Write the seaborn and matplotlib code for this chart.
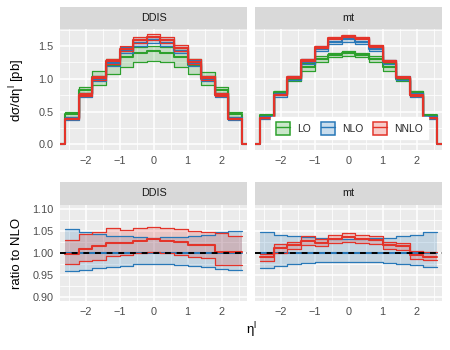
import numpy as np
import matplotlib
matplotlib.use("Agg")
import matplotlib.pyplot as plt
import seaborn as sns
from matplotlib.patches import Patch
from matplotlib.lines import Line2D
from matplotlib.legend_handler import HandlerTuple

# data
eta_edges = [-2.6, -2.2, -1.8, -1.4, -1.0, -0.6, -0.2, 0.2, 0.6, 1.0, 1.4, 1.8, 2.2, 2.6]
panels = ["DDIS", "mt"]
orders = ["LO", "NLO", "NNLO"]

# DDIS, absolute cross sections [pb]
ddis_lo = [0.455, 0.835, 1.03, 1.21, 1.33, 1.40, 1.43, 1.40, 1.33, 1.21, 1.03, 0.835, 0.455]
ddis_lo_up = [0.49, 0.88, 1.115, 1.30, 1.44, 1.48, 1.50, 1.48, 1.44, 1.30, 1.11, 0.88, 0.49]
ddis_lo_dn = [0.42, 0.79, 0.91, 1.07, 1.18, 1.25, 1.27, 1.25, 1.18, 1.07, 0.905, 0.79, 0.415]
ddis_nlo = [0.39, 0.75, 1.00, 1.235, 1.43, 1.545, 1.585, 1.545, 1.43, 1.235, 1.00, 0.75, 0.39]
# DDIS, ratios to NLO central
ddis_nlo_r_up = [1.054, 1.048, 1.044, 1.040, 1.038, 1.036, 1.035, 1.036, 1.037, 1.040, 1.042, 1.047, 1.050]
ddis_nlo_r_dn = [0.958, 0.960, 0.966, 0.969, 0.971, 0.974, 0.974, 0.974, 0.972, 0.970, 0.968, 0.964, 0.962]
ddis_nnlo_r = [0.998, 1.009, 1.015, 1.024, 1.022, 1.028, 1.031, 1.028, 1.025, 1.019, 1.018, 1.002, 1.002]
ddis_nnlo_r_up = [1.030, 1.043, 1.048, 1.057, 1.053, 1.057, 1.060, 1.058, 1.055, 1.051, 1.048, 1.045, 1.039]
ddis_nnlo_r_dn = [0.974, 0.981, 0.985, 0.994, 0.996, 1.000, 1.002, 1.000, 0.996, 0.991, 0.988, 0.973, 0.972]

# mt, absolute cross sections [pb]
mt_lo = [0.44, 0.80, 0.99, 1.185, 1.30, 1.36, 1.39, 1.36, 1.30, 1.185, 0.99, 0.80, 0.44]
mt_lo_up = [0.45, 0.815, 1.015, 1.245, 1.345, 1.40, 1.43, 1.40, 1.345, 1.245, 1.015, 0.815, 0.45]
mt_lo_dn = [0.43, 0.785, 0.965, 1.125, 1.255, 1.325, 1.35, 1.325, 1.255, 1.125, 0.965, 0.785, 0.43]
mt_nlo = [0.405, 0.75, 1.01, 1.25, 1.455, 1.565, 1.60, 1.565, 1.455, 1.25, 1.01, 0.75, 0.405]
# mt, ratios to NLO central
mt_nlo_r_up = [1.048, 1.042, 1.039, 1.037, 1.034, 1.033, 1.033, 1.033, 1.034, 1.035, 1.039, 1.042, 1.047]
mt_nlo_r_dn = [0.966, 0.971, 0.975, 0.977, 0.979, 0.980, 0.980, 0.980, 0.979, 0.977, 0.975, 0.972, 0.968]
mt_nnlo_r = [0.991, 1.011, 1.019, 1.028, 1.024, 1.032, 1.036, 1.032, 1.029, 1.019, 1.015, 0.996, 0.991]
mt_nnlo_r_up = [0.998, 1.021, 1.026, 1.038, 1.032, 1.042, 1.045, 1.042, 1.038, 1.026, 1.024, 1.004, 1.002]
mt_nnlo_r_dn = [0.981, 1.001, 1.009, 1.019, 1.015, 1.023, 1.025, 1.024, 1.020, 1.009, 1.006, 0.986, 0.985]

colors = {"LO": "#2ca02c", "NLO": "#2878b8", "NNLO": "#e3342a"}


def build(lo, lo_up, lo_dn, nlo, nlo_r_up, nlo_r_dn, nnlo_r, nnlo_r_up, nnlo_r_dn):
    nlo = np.array(nlo)
    ratio = {
        "NLO": (nlo / nlo, np.array(nlo_r_dn), np.array(nlo_r_up)),
        "NNLO": (np.array(nnlo_r), np.array(nnlo_r_dn), np.array(nnlo_r_up)),
    }
    absolute = {"LO": (np.array(lo), np.array(lo_dn), np.array(lo_up))}
    for k, (c, d, u) in ratio.items():
        absolute[k] = (c * nlo, d * nlo, u * nlo)
    return absolute, ratio


data = {
    "DDIS": build(ddis_lo, ddis_lo_up, ddis_lo_dn, ddis_nlo, ddis_nlo_r_up, ddis_nlo_r_dn,
                  ddis_nnlo_r, ddis_nnlo_r_up, ddis_nnlo_r_dn),
    "mt": build(mt_lo, mt_lo_up, mt_lo_dn, mt_nlo, mt_nlo_r_up, mt_nlo_r_dn,
                mt_nnlo_r, mt_nnlo_r_up, mt_nnlo_r_dn),
}

sns.set_theme(style="darkgrid")
plt.rcParams["font.family"] = ["Liberation Sans", "DejaVu Sans"]
plt.rcParams["mathtext.default"] = "regular"

W, H = 450, 350
XLIM = 2.75


def box(x0, y0, x1, y1):
    return [x0 / W, 1 - y1 / H, (x1 - x0) / W, (y1 - y0) / H]


def style(ax, yticks, yminor, ylim, show_y):
    ax.set_facecolor("#EBEBEB")
    for s in ax.spines.values():
        s.set_visible(False)
    ax.set_xlim(-XLIM, XLIM)
    ax.set_ylim(*ylim)
    ax.set_xticks([-2, -1, 0, 1, 2])
    ax.set_xticks([-2.5, -1.5, -0.5, 0.5, 1.5, 2.5], minor=True)
    ax.set_yticks(yticks)
    ax.set_yticks(yminor, minor=True)
    ax.grid(True, which="major", color="white", lw=1.1)
    ax.grid(True, which="minor", color="white", lw=0.55)
    ax.set_axisbelow(True)
    ax.tick_params(which="major", length=3, width=0.8, color="#333333",
                   labelsize=7.8, labelcolor="#4D4D4D", pad=1.5)
    ax.tick_params(which="minor", length=0)
    if not show_y:
        ax.tick_params(axis="y", which="major", length=0, labelleft=False)
    ax.set_xlabel("")
    ax.set_ylabel("")


def strip(rect, label):
    sax = fig.add_axes(rect)
    sax.set_facecolor("#D9D9D9")
    for s in sax.spines.values():
        s.set_visible(False)
    sax.set_xticks([])
    sax.set_yticks([])
    sax.grid(False)
    sax.text(0.5, 0.5, label, ha="center", va="center", fontsize=7.8, color="#1A1A1A",
             transform=sax.transAxes)


def draw_order(ax, c, d, u, color, pad_zero):
    edges = np.array(eta_edges)
    fill = np.append
    ax.fill_between(edges, fill(d, d[-1]), fill(u, u[-1]), step="post",
                    color=color, alpha=0.2, lw=0)
    for band in (d, u):
        sns.lineplot(x=edges, y=fill(band, band[-1]), ax=ax, color=color, lw=0.9,
                     drawstyle="steps-post", estimator=None, sort=False, legend=False)
    if pad_zero:
        xs = np.concatenate([[-XLIM], edges, [XLIM]])
        ys = np.concatenate([[0], c, [0, 0]])
    else:
        xs, ys = edges, fill(c, c[-1])
    sns.lineplot(x=xs, y=ys, ax=ax, color=color, lw=1.5,
                 drawstyle="steps-post", estimator=None, sort=False, legend=False)


fig = plt.figure(figsize=(4.5, 3.5), dpi=100)
cols = [(60, 247), (255, 442)]

for i, name in enumerate(panels):
    x0, x1 = cols[i]
    absolute, ratio = data[name]

    strip(box(x0, 7, x1, 29), name)
    ax = fig.add_axes(box(x0, 29, x1, 150))
    for o in orders:
        draw_order(ax, *absolute[o], colors[o], True)
    style(ax, [0.0, 0.5, 1.0, 1.5], [0.25, 0.75, 1.25, 1.75], (-0.088, 1.76), i == 0)
    if i == 0:
        ax.set_yticklabels(["0.0", "0.5", "1.0", "1.5"])
    else:
        handles = [(Patch(facecolor=colors[o], alpha=0.25), Patch(facecolor="none", edgecolor=colors[o], lw=1.1),
                    Line2D([], [], color=colors[o], lw=1.0)) for o in orders]
        leg = ax.legend(handles, orders, handler_map={tuple: HandlerTuple(ndivide=1)},
                        ncol=3, loc="center", bbox_to_anchor=(0.505, 0.18), fontsize=7.4,
                        frameon=True, fancybox=False, framealpha=1, facecolor="white",
                        edgecolor="white", handlelength=1.4, handleheight=1.6,
                        columnspacing=0.9, handletextpad=0.7, borderpad=0.45)

    strip(box(x0, 182, x1, 205), name)
    rax = fig.add_axes(box(x0, 205, x1, 301))
    for o in ["NLO", "NNLO"]:
        draw_order(rax, *ratio[o], colors[o], False)
    rax.axhline(1.0, color="black", lw=1.4, dashes=(3, 3), zorder=5)
    style(rax, [0.90, 0.95, 1.00, 1.05, 1.10], [0.925, 0.975, 1.025, 1.075], (0.89, 1.11), i == 0)
    if i == 0:
        rax.set_yticklabels(["0.90", "0.95", "1.00", "1.05", "1.10"])

fig.text(17 / W, 1 - 90 / H, "dσ/dη$^{l}$ [pb]", rotation=90, ha="center", va="center",
         fontsize=9.5, color="black")
fig.text(17 / W, 1 - 253 / H, "ratio to NLO", rotation=90, ha="center", va="center",
         fontsize=9.5, color="black")
fig.text(251 / W, 1 - 330 / H, "η$^{l}$", ha="center", va="center", fontsize=9.5, color="black")

fig.savefig("out.png", dpi=100)
